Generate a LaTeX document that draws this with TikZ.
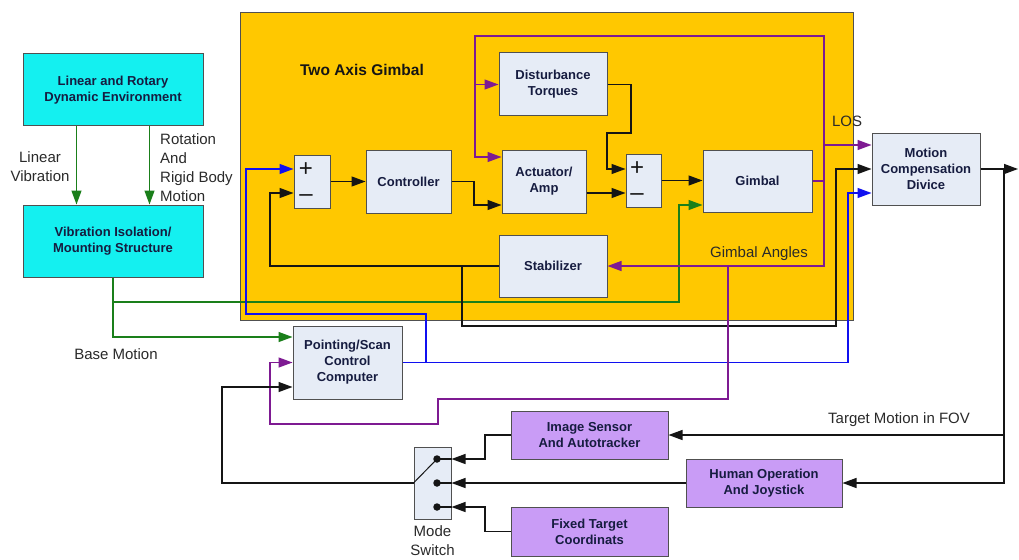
\documentclass[tikz,border=0pt]{standalone}
\usepackage{fontspec}
\setmainfont{Liberation Sans}
\usetikzlibrary{arrows.meta}
\definecolor{gold}{HTML}{FFC800}
\definecolor{cyanbox}{HTML}{14F0F0}
\definecolor{boxfill}{HTML}{E6ECF6}
\definecolor{purplebox}{HTML}{C99CF6}
\definecolor{boxline}{HTML}{505050}
\definecolor{navy}{HTML}{161C40}
\definecolor{gline}{HTML}{1A7F1A}
\definecolor{pline}{HTML}{7E1A92}
\definecolor{bline}{HTML}{1010F0}
\definecolor{kline}{HTML}{151515}
\definecolor{lbl}{HTML}{2A2A2A}
\begin{document}
\begin{tikzpicture}[x=1pt,y=-1pt,
  blk/.style={draw=boxline, line width=1pt, fill=boxfill, text=navy, align=center, inner sep=0pt,
    font=\bfseries\fontsize{13}{16}\selectfont},
  cblk/.style={blk, fill=cyanbox},
  pblk/.style={blk, fill=purplebox},
  conn/.style={line width=1.3pt, -{Triangle[length=14pt,width=10pt]}},
  wire/.style={line width=1.3pt},
  lab/.style={text=lbl, font=\fontsize{15}{19}\selectfont, inner sep=0pt},
  sgn/.style={text=kline, font=\fontsize{24}{24}\selectfont, inner sep=0pt},
  dotc/.style={circle, fill=kline, inner sep=0pt, minimum size=7.5pt}
]
\useasboundingbox (0,0) rectangle (1019,559);
\fill[white] (0,0) rectangle (1019,559);

% gimbal background
\node[draw=boxline, line width=0.8pt, fill=gold, minimum width=613pt, minimum height=308pt, inner sep=0pt, anchor=north west] (gbox) at (240,12) {};
\node[text=kline, font=\bfseries\fontsize{15.5}{18}\selectfont, inner sep=0pt] (gtitle) at (362,70) {Two Axis Gimbal};

% left cyan boxes
\node[cblk, minimum width=180pt, minimum height=72pt] (env) at (113,90) {Linear and Rotary\\Dynamic Environment};
\node[cblk, minimum width=180pt, minimum height=72pt] (iso) at (113,241) {Vibration Isolation/\\Mounting Structure};

% gimbal internals
\node[blk, minimum width=36pt, minimum height=53pt] (sum1) at (312,181.5) {};
\node[sgn] (sum1p) at (306,170) {+};
\node[sgn] (sum1m) at (306,198) {\textendash};
\node[blk, minimum width=85pt, minimum height=63pt] (ctrl) at (408.5,181.5) {Controller};
\node[blk, minimum width=84pt, minimum height=63pt] (act) at (544,181.5) {Actuator/\\Amp};
\node[blk, minimum width=108pt, minimum height=63pt] (dist) at (553,84.5) {Disturbance\\Torques};
\node[blk, minimum width=108pt, minimum height=62pt] (stab) at (553,266) {Stabilizer};
\node[blk, minimum width=35pt, minimum height=53pt] (sum2) at (643.5,180.5) {};
\node[sgn] (sum2p) at (637,169) {+};
\node[sgn] (sum2m) at (637,197) {\textendash};
\node[blk, minimum width=109pt, minimum height=62pt] (gim) at (757.5,181) {Gimbal};

% right and bottom boxes
\node[blk, minimum width=108pt, minimum height=72pt] (mcd) at (926,169) {Motion\\Compensation\\Divice};
\node[blk, minimum width=109pt, minimum height=73pt] (pcc) at (347.5,362.5) {Pointing/Scan\\Control\\Computer};
\node[pblk, minimum width=157pt, minimum height=48pt] (img) at (589.5,435) {Image Sensor\\And Autotracker};
\node[pblk, minimum width=156pt, minimum height=48pt] (hum) at (764,483) {Human Operation\\And Joystick};
\node[pblk, minimum width=157pt, minimum height=49pt] (fix) at (589.5,531.5) {Fixed Target\\Coordinats};
\node[blk, minimum width=37pt, minimum height=72pt] (sw) at (432.5,483) {};
\coordinate (d1) at (437,459);
\coordinate (d2) at (437,483);
\coordinate (d3) at (437,507);
\coordinate (out) at (1018,169);

% labels
\node[lab, align=center] (llin) at (40,167) {Linear\\Vibration};
\node[lab, align=left, anchor=west] (lrot) at (160,168) {Rotation\\And\\Rigid Body\\Motion};
\node[lab] (lbase) at (116,354) {Base Motion};
\node[lab] (llos) at (847,121) {LOS};
\node[lab] (lga) at (759,254) {Gimbal Angles};
\node[lab] (ltm) at (899,420) {Target Motion in FOV};
\node[lab, align=center, anchor=north] (lms) at (432.5,525) {Mode\\Switch};

% green connectors
\draw[conn, gline] ([xshift=54pt]env.south west) -- ([xshift=54pt]iso.north west);
\draw[conn, gline] ([xshift=127pt]env.south west) -- ([xshift=127pt]iso.north west);
\draw[conn, gline] (iso.south) |- (679,302) |- ([yshift=-24pt]gim.west);
\draw[conn, gline] (113,302) |- ([yshift=25.5pt]pcc.west);

% blue connectors
\draw[conn, bline] (pcc.east) -- (848,362.5) |- ([yshift=-24pt]mcd.west);
\draw[conn, bline] (426,362.5) |- (246,314) |- ([yshift=12.5pt]sum1.west);

% black connectors in gimbal
\draw[conn, kline] (stab.west) -- (270,266) |- ([yshift=-11.5pt]sum1.west);
\draw[conn, kline] (462,266) |- (836,326) |- (mcd.west);
\draw[conn, kline] (sum1.east) -- (ctrl.west);
\draw[conn, kline] (ctrl.east) -- (474,181.5) |- ([yshift=-23.5pt]act.west);
\draw[conn, kline] (dist.east) -| (631,133) -| (607,169) -- ([yshift=11.5pt]sum2.west);
\draw[conn, kline] ([yshift=-11.5pt]act.east) -- ([yshift=-11.5pt]act.east -| sum2.west);
\draw[conn, kline] (sum2.east) -- (sum2.east -| gim.west);

% purple connectors
\draw[wire, pline] (gim.east) -- (824,181);
\draw[conn, pline] (824,181) |- (475,36) |- ([yshift=24.5pt]act.west);
\draw[conn, pline] (475,84.5) -- (dist.west);
\draw[conn, pline] (824,181) |- (stab.east);
\draw[conn, pline] (824,145) -- ([yshift=24pt]mcd.west);
\draw[conn, pline] (728,266) |- (438,399) -- (438,424) -| (270,362.5) -- (pcc.west);

% output and target motion
\draw[conn, kline] (mcd.east) -- (out);
\draw[conn, kline] (1004,169) |- (img.east);
\draw[conn, kline] (1004,435) |- (hum.east);

% mode switch
\draw[conn, kline] (img.west) -| (485,459) -- (sw.east |- d1);
\draw[conn, kline] (hum.west) -- (sw.east |- d2);
\draw[conn, kline] (fix.west) -| (485,507) -- (sw.east |- d3);
\draw[wire, kline] (d1) -- (sw.east |- d1);
\draw[wire, kline] (d2) -- (sw.east |- d2);
\draw[wire, kline] (d3) -- (sw.east |- d3);
\draw[line width=1pt, kline] (d1) -- (sw.west);
\draw[conn, kline] (sw.west) -| (222,387) -- ([yshift=-24.5pt]pcc.west);
\node[dotc] (p1) at (d1) {};
\node[dotc] (p2) at (d2) {};
\node[dotc] (p3) at (d3) {};
\end{tikzpicture}
\end{document}
